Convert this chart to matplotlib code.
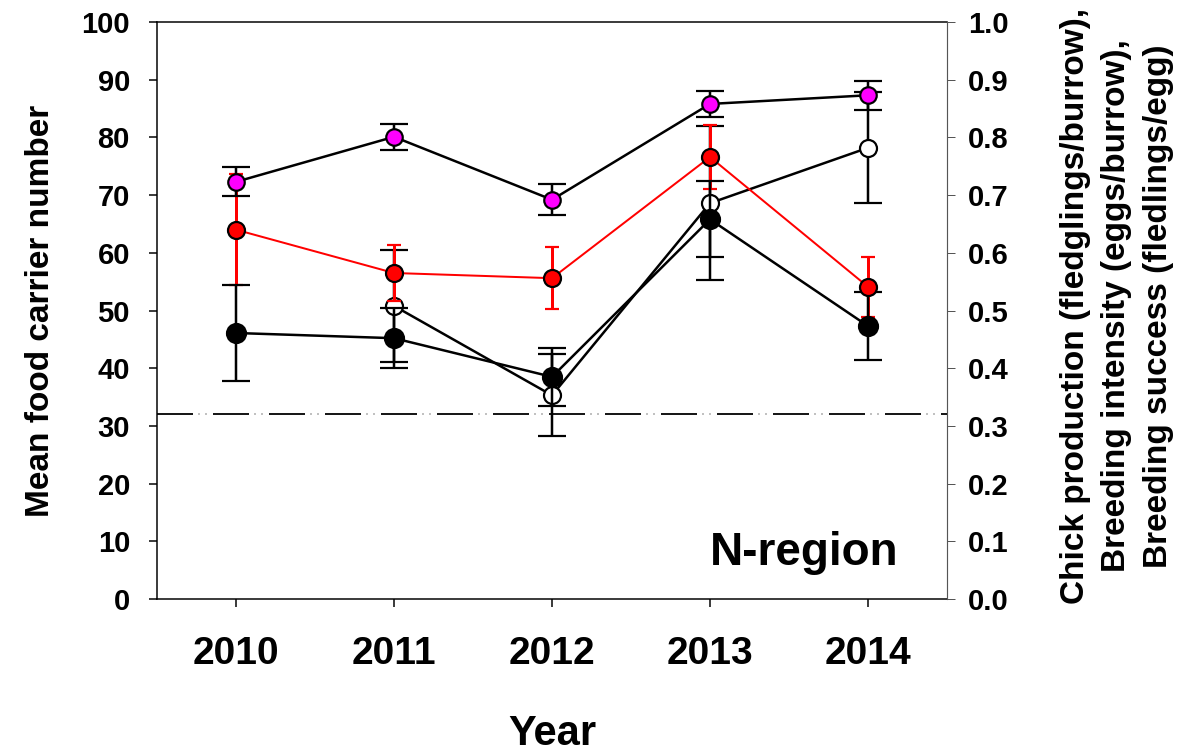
import numpy as np
import matplotlib
matplotlib.use("Agg")
from matplotlib import pyplot as plt

plt.rcParams['font.family'] = ['Liberation Sans', 'DejaVu Sans']
plt.rcParams['font.weight'] = 'bold'
plt.rcParams['axes.labelweight'] = 'bold'
plt.rcParams['lines.scale_dashes'] = False

# ---------------------------------------------------------------------------
# Data (N-region)
# ---------------------------------------------------------------------------
years = [2010, 2011, 2012, 2013, 2014]

# left axis: mean food carrier number (open circles)
food_carrier = [np.nan, 50.8, 35.3, 68.6, 78.2]
food_carrier_err = [np.nan, 9.7, 7.1, 13.4, 9.6]
food_threshold = 32.0

# right axis
breeding_intensity = [0.723, 0.801, 0.692, 0.858, 0.873]    # magenta
breeding_intensity_err = [0.025, 0.022, 0.027, 0.023, 0.025]
breeding_success = [0.640, 0.565, 0.556, 0.766, 0.541]       # red
breeding_success_err = [0.096, 0.049, 0.054, 0.056, 0.052]
chick_production = [0.461, 0.452, 0.385, 0.658, 0.473]       # black
chick_production_err = [0.084, 0.052, 0.050, 0.066, 0.059]

left_ticks = np.arange(0, 101, 10)
right_ticks = np.round(np.arange(0, 1.01, 0.1), 1)

PX = 0.72  # points per pixel at dpi=100

fig = plt.figure(figsize=(11.92, 7.53), dpi=100)
ax = fig.add_axes([157 / 1192, 1 - 599 / 753, 790 / 1192, 577 / 753])
ax2 = ax.twinx()

# threshold line: long black dashes with faint grey dots in the gaps
ax.axhline(food_threshold, color='black', lw=1.8 * PX,
           linestyle=(0, (36 * PX, 20 * PX)), zorder=1)
ax.axhline(food_threshold, color='#bbbbbb', lw=1.8 * PX,
           linestyle=(15 * PX, (2 * PX, 5 * PX, 2 * PX, 47 * PX)), zorder=1)

ax.errorbar(years, food_carrier, yerr=food_carrier_err, color='black',
            lw=2.5 * PX, elinewidth=2.5 * PX, capsize=14 * PX, capthick=3 * PX,
            marker='o', ms=17 * PX, mfc='white', mec='black', mew=2.2 * PX,
            zorder=3)

common = dict(capthick=3 * PX, marker='o', mew=2.2 * PX)
ax2.errorbar(years, breeding_success, yerr=breeding_success_err, color='red',
             lw=2 * PX, elinewidth=3 * PX, capsize=7 * PX, ms=17 * PX,
             mfc='red', mec='black', **common)
ax2.errorbar(years, chick_production, yerr=chick_production_err, color='black',
             lw=2.5 * PX, elinewidth=2.5 * PX, capsize=14 * PX, ms=19 * PX,
             mfc='black', mec='black', **common)
ax2.errorbar(years, breeding_intensity, yerr=breeding_intensity_err,
             color='black', lw=2.5 * PX, elinewidth=2.5 * PX, capsize=14 * PX,
             ms=16.5 * PX, mfc='#ff00ff', mec='black', **common)

ax.set_xlim(2009.5, 2014.5)
ax.set_ylim(0, 100)
ax2.set_ylim(0, 1.0)
ax.set_xticks(years)
ax.set_xticklabels([str(y) for y in years], fontsize=28, fontweight='bold')
ax.set_yticks(left_ticks)
ax.set_yticklabels([str(t) for t in left_ticks], fontsize=21, fontweight='bold')
ax2.set_yticks(right_ticks)
ax2.set_yticklabels([f'{t:.1f}' for t in right_ticks], fontsize=21,
                    fontweight='bold')

ax.tick_params(axis='y', direction='out', length=8 * PX, width=1.5 * PX, pad=19 * PX)
ax.tick_params(axis='x', direction='out', length=8 * PX, width=1.5 * PX, pad=29 * PX)
ax2.tick_params(axis='y', direction='out', length=8 * PX, width=1 * PX,
                color='#555555', pad=13 * PX)

for side in ['left', 'top', 'bottom']:
    ax.spines[side].set_linewidth(1.5 * PX)
ax2.spines['right'].set_linewidth(1 * PX)
ax2.spines['right'].set_color('#555555')
for side in ['left', 'top', 'bottom']:
    ax2.spines[side].set_visible(False)

ax.set_xlabel('Year', fontsize=30, fontweight='bold', labelpad=30)
ax.set_ylabel('Mean food carrier number', fontsize=24, fontweight='bold',
              labelpad=18)
fig.text(1117 / 1192, 1 - 306 / 753,
         'Chick production (fledglings/burrow),\n'
         'Breeding intensity (eggs/burrow),\n'
         'Breeding success (fledlings/egg)',
         fontsize=24, fontweight='bold', linespacing=1.45, rotation=90,
         ha='center', va='center', multialignment='center')

ax.text(0.938, 0.059, 'N-region', transform=ax.transAxes, ha='right',
        va='baseline', fontsize=33, fontweight='bold')

fig.savefig('out.png', dpi=100)
plt.close(fig)
